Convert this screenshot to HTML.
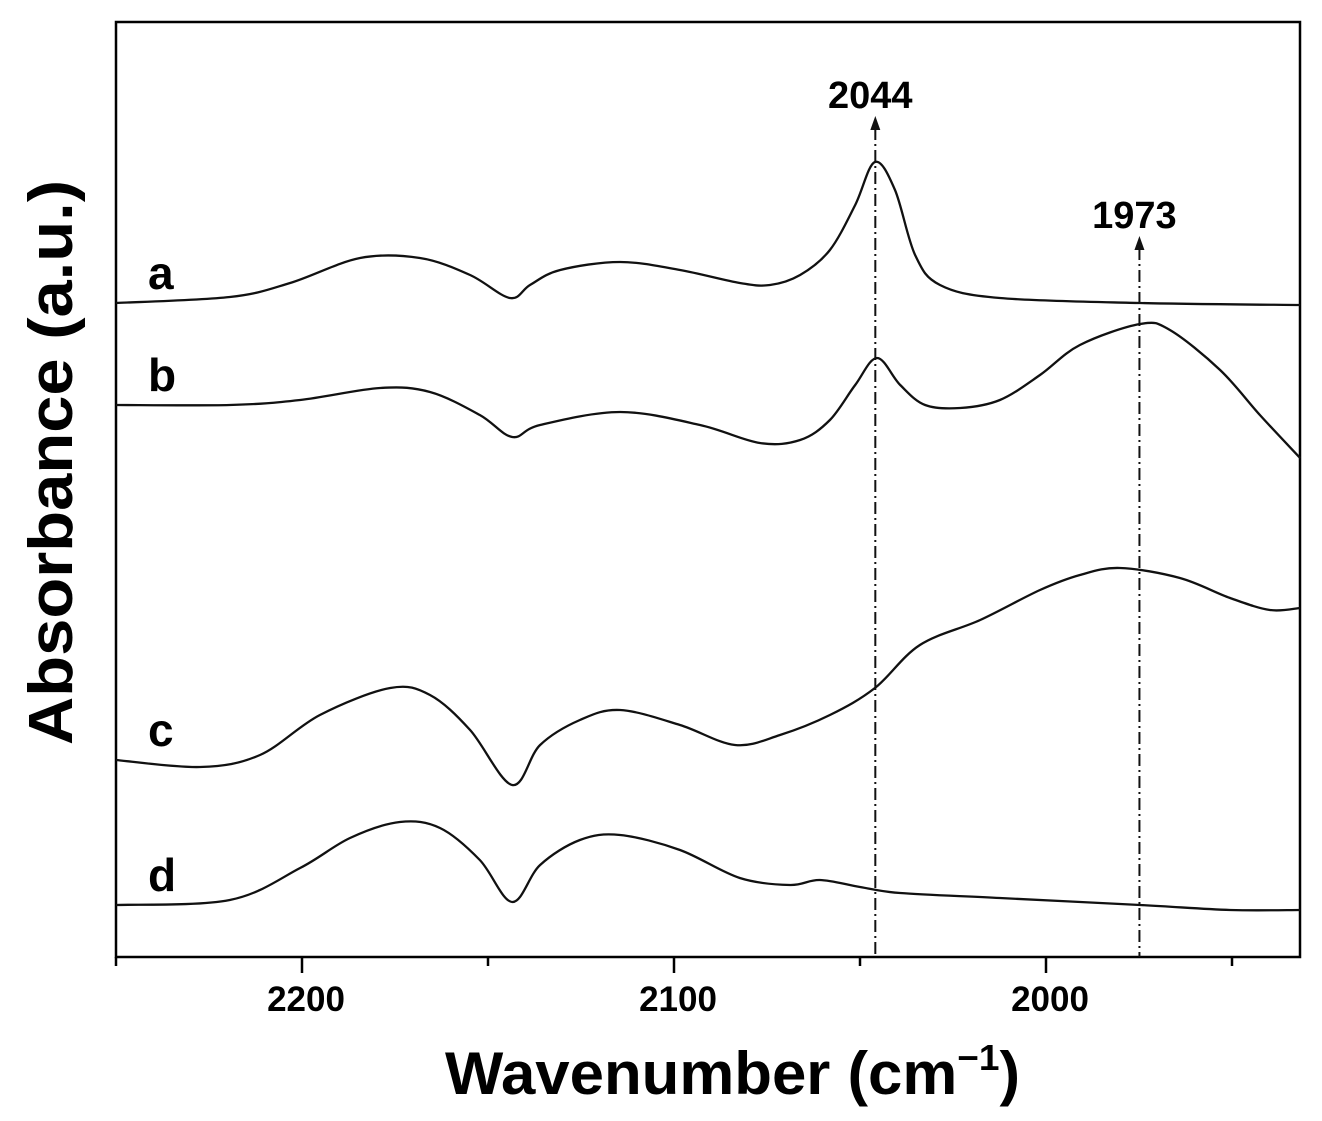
<!DOCTYPE html>
<html><head><meta charset="utf-8"><style>
body{margin:0;background:#fff}
svg{display:block;font-family:"Liberation Sans",Arial,sans-serif;font-weight:bold}
</style></head><body>
<svg id="chart" width="1322" height="1121" viewBox="0 0 1322 1121" xmlns="http://www.w3.org/2000/svg">
<g id="plot"></g>
</svg>
<script>
const xTicks=[2200,2100,2000];
const xMinorTicks=[2250,2150,2050,1950];
const wnA=[2250,2219.4,2203.2,2184.4,2168.3,2154.8,2144.1,2138.7,2130.6,2114.5,2098.4,2082.3,2074.2,2066.1,2058.1,2051.3,2046,2040.6,2035.2,2028.5,2012.4,1974.7,1931.7];
const absA=[654,660,674,699,699,682,659,672,687,695,687,674,672,682,707,752,795,767,702,672,659,654,652];
const wnB=[2250,2219.4,2200.5,2179,2165.6,2152.2,2143.5,2136,2114.5,2093,2076.9,2066.1,2058.1,2051.3,2045.4,2039.2,2032.5,2023.1,2012.4,2001.6,1990.9,1974.7,1966.7,1953.2,1942.5,1931.7];
const absB=[552,552,557,569,565,542,520,532,545,532,514,517,537,572,599,572,552,549,557,582,612,633,627,587,542,499];
const wnC=[2250,2227.4,2211.3,2195.2,2176.3,2165.6,2154.8,2143.5,2136,2125.3,2114.5,2098.4,2083.6,2071.5,2058.1,2046,2033.9,2017.7,2001.6,1990.9,1980.1,1964,1950.5,1939.8,1931.7];
const absC=[197,190,202,242,269,262,227,172,212,237,247,232,212,222,242,269,312,337,367,382,389,379,359,347,349];
const wnD=[2250,2219.4,2200.5,2187.1,2173.7,2162.9,2152.2,2143.5,2136,2125.3,2114.5,2098.4,2082.3,2068.8,2060.8,2050,2039.2,2012.4,1974.7,1950.5,1931.7];
const absD=[52,57,89,119,135,129,97,55,92,117,122,107,79,72,77,70,64,59,52,47,47];
const seriesLabels=["a","b","c","d"];
const peaks=[2044,1973];

const X0=116,X1=1300,Y0=957,Y1=22;
const wnMax=2250;
const xs=w=>X0+(wnMax-w)*3.72;
const ys=v=>Y0-v;
const NS="http://www.w3.org/2000/svg";
const g=document.getElementById('plot');
function mk(t,a){const e=document.createElementNS(NS,t);for(const k in a)e.setAttribute(k,a[k]);g.appendChild(e);return e;}
function smooth(pts){let d=`M${pts[0][0]},${pts[0][1]}`;for(let i=0;i<pts.length-1;i++){const p0=pts[Math.max(0,i-1)],p1=pts[i],p2=pts[i+1],p3=pts[Math.min(pts.length-1,i+2)];const c1=[p1[0]+(p2[0]-p0[0])/6,p1[1]+(p2[1]-p0[1])/6],c2=[p2[0]-(p3[0]-p1[0])/6,p2[1]-(p3[1]-p1[1])/6];d+=`C${c1[0].toFixed(1)},${c1[1].toFixed(1)} ${c2[0].toFixed(1)},${c2[1].toFixed(1)} ${p2[0].toFixed(1)},${p2[1].toFixed(1)}`;}return d;}

let fr=mk('rect',{x:X0,y:Y1,width:X1-X0,height:Y0-Y1,fill:'none',stroke:'#000','stroke-width':2.5});


xTicks.forEach(t=>{
  const l=mk('line',{x1:xs(t),x2:xs(t),y1:Y0,y2:Y0+16,stroke:'#000','stroke-width':2.5});
  
  
  const tx=mk('text',{x:xs(t)+4,y:Y0+54,'text-anchor':'middle','font-size':35});
  tx.textContent=t;
  
  
});
xMinorTicks.forEach(t=>{
  const l=mk('line',{x1:xs(t),x2:xs(t),y1:Y0,y2:Y0+9,stroke:'#000','stroke-width':2.5});
  
  
});
const wns=[wnA,wnB,wnC,wnD],abss=[absA,absB,absC,absD];
wns.forEach((w,i)=>{
  const pts=w.map((v,j)=>[xs(v),ys(abss[i][j])]);
  const p=mk('path',{d:smooth(pts),fill:'none',stroke:'#111','stroke-width':2.3});
  
  
  const t=mk('text',{x:148,y:ys(abss[i][0])-14,'font-size':46});
  t.textContent=seriesLabels[i];
  
  
});
const peakTop=[128,248],labelY=[112,232];
peaks.forEach((pk,i)=>{
  const x=xs(pk)-7;
  const l=mk('line',{x1:x,x2:x,y1:peakTop[i],y2:Y0,stroke:'#111','stroke-width':2,'stroke-dasharray':'12,4,2,4'});
  
  
  const a=mk('polygon',{points:`${x-5},${peakTop[i]+2} ${x+5},${peakTop[i]+2} ${x},${peakTop[i]-12}`,fill:'#111'});
  
  
  const t=mk('text',{x:x-5,y:labelY[i]-4,'text-anchor':'middle','font-size':38});
  t.textContent=pk;
  
  
});
const xt=mk('text',{x:445,y:1094,'font-size':60,textLength:575,lengthAdjust:'spacingAndGlyphs'});
xt.innerHTML='Wavenumber (cm<tspan dy="-24" font-size="36">−1</tspan><tspan dy="24">)</tspan>';


const yt=mk('text',{x:0,y:0,'font-size':62,textLength:565,lengthAdjust:'spacingAndGlyphs',transform:'translate(72,745) rotate(-90)'});
yt.textContent='Absorbance (a.u.)';


</script>
</body></html>
